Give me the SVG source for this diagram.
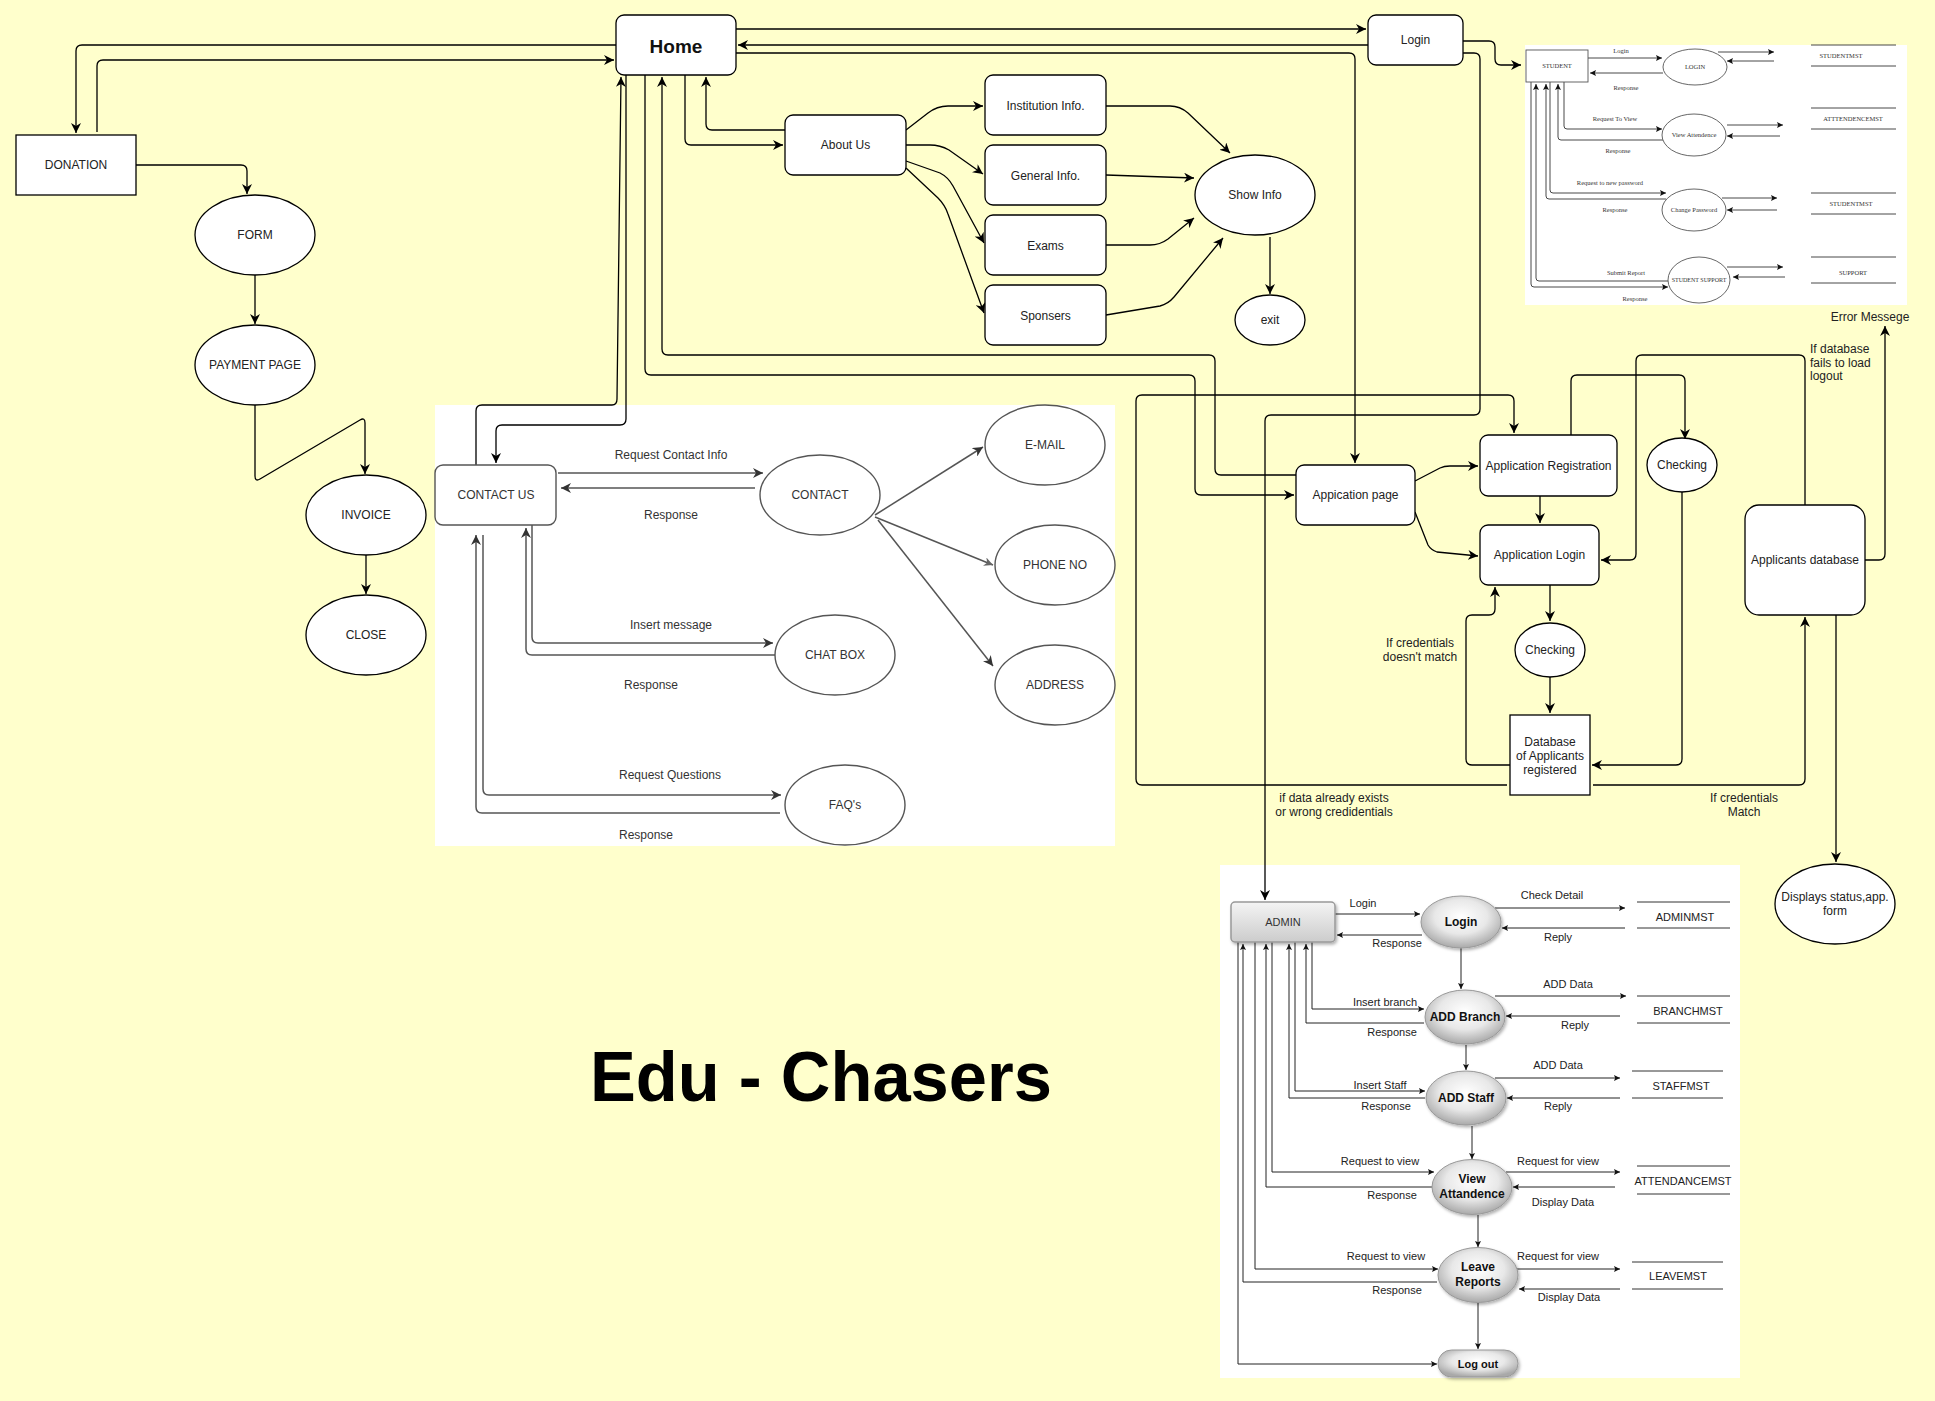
<svg xmlns="http://www.w3.org/2000/svg" width="1935" height="1401" viewBox="0 0 1935 1401">
<defs>
<style>
.t{font-family:"Liberation Sans",Arial,sans-serif;font-size:12px;fill:#222;text-anchor:middle}
.tl{font-family:"Liberation Sans",Arial,sans-serif;font-size:12px;fill:#222;text-anchor:start}
.tc{font-family:"Liberation Sans",Arial,sans-serif;font-size:12px;fill:#333;text-anchor:middle}
.ts{font-family:"Liberation Serif","Times New Roman",serif;font-size:6.5px;fill:#333;text-anchor:middle}
.ta{font-family:"Liberation Sans",Arial,sans-serif;font-size:11px;fill:#222;text-anchor:middle}
.tab{font-family:"Liberation Sans",Arial,sans-serif;font-size:12px;font-weight:bold;fill:#111;text-anchor:middle}
.n{fill:#fff;stroke:#000;stroke-width:1.3}
.ng{fill:#fff;stroke:#555;stroke-width:1.4}
.ns{fill:#fff;stroke:#555;stroke-width:0.9}
.e{fill:none;stroke:#000;stroke-width:1.3}
.eg{fill:none;stroke:#555;stroke-width:1.5}
.es{fill:none;stroke:#333;stroke-width:0.9}
.ea{fill:none;stroke:#222;stroke-width:1}
.st{fill:none;stroke:#333;stroke-width:1}
.ae{fill:url(#eg);stroke:#999;stroke-width:1;filter:url(#sh)}
</style>
<marker id="a" viewBox="0 0 10 10" refX="10" refY="5" markerWidth="10" markerHeight="10" markerUnits="userSpaceOnUse" orient="auto"><path d="M0,0 L10,5 L0,10 L3,5 z" fill="#000"/></marker>
<marker id="g" viewBox="0 0 10 10" refX="10" refY="5" markerWidth="10" markerHeight="10" markerUnits="userSpaceOnUse" orient="auto"><path d="M0,0 L10,5 L0,10 L3,5 z" fill="#333"/></marker>
<marker id="lg" viewBox="0 0 10 10" refX="10" refY="5" markerWidth="9" markerHeight="9" markerUnits="userSpaceOnUse" orient="auto"><path d="M0,0 L10,5 L0,10 L3,5 z" fill="#666"/></marker>
<marker id="s" viewBox="0 0 10 10" refX="10" refY="5" markerWidth="6" markerHeight="6" markerUnits="userSpaceOnUse" orient="auto"><path d="M0,0 L10,5 L0,10 L2,5 z" fill="#111"/></marker>
<radialGradient id="eg" cx="50%" cy="40%" r="60%"><stop offset="0" stop-color="#ffffff"/><stop offset="0.55" stop-color="#e8e8e8"/><stop offset="1" stop-color="#a9a9a9"/></radialGradient>
<linearGradient id="bg" x1="0" y1="0" x2="0" y2="1"><stop offset="0" stop-color="#f4f4f4"/><stop offset="1" stop-color="#cccccc"/></linearGradient>
<filter id="sh" x="-20%" y="-20%" width="150%" height="160%"><feDropShadow dx="1.5" dy="2" stdDeviation="1.5" flood-color="#000" flood-opacity="0.3"/></filter>
</defs>
<rect x="0" y="0" width="1935" height="1401" fill="#FFFFCC"/>
<g id="panels">
<rect x="1525" y="45" width="382" height="260" fill="#fff"/>
<rect x="435" y="405" width="680" height="441" fill="#fff"/>
<rect x="1220" y="865" width="520" height="513" fill="#fff"/>
</g>
<g id="connectors">
<g id="main-edges">
<path class="e" d="M736,29 L1366,29" marker-end="url(#a)"/>
<path class="e" d="M1368,45 L738,45" marker-end="url(#a)"/>
<path class="e" d="M736,53 L1349,53 Q1355,53 1355,59 L1355,463" marker-end="url(#a)"/>
<path class="e" d="M1463,41 L1489,41 Q1495,41 1495,47 L1495,59 Q1495,65 1501,65 L1521,65" marker-end="url(#a)"/>
<path class="e" d="M1463,53 L1474,53 Q1480,53 1480,59 L1480,409 Q1480,415 1474,415 L1271,415 Q1265,415 1265,421 L1265,900" marker-end="url(#a)"/>
<path class="e" d="M616,45 L82,45 Q76,45 76,51 L76,133" marker-end="url(#a)"/>
<path class="e" d="M97,132 L97,66 Q97,60 103,60 L614,60" marker-end="url(#a)"/>
<path class="e" d="M136,165 L241,165 Q247,165 247,171 L247,194" marker-end="url(#a)"/>
<path class="e" d="M255,275 L255,324" marker-end="url(#a)"/>
<path class="e" d="M255,405 L255,476 Q255,482 260,479 L360,420 Q365,417 365,423 L365,474" marker-end="url(#a)"/>
<path class="e" d="M366,555 L366,594" marker-end="url(#a)"/>
<path class="e" d="M685,75 L685,139 Q685,145 691,145 L783,145" marker-end="url(#a)"/>
<path class="e" d="M785,130 L712,130 Q706,130 706,124 L706,77" marker-end="url(#a)"/>
<path class="e" d="M906,130 L928,113 Q937,106 948,106 L983,106" marker-end="url(#a)"/>
<path class="e" d="M906,145 L930,145 Q940,145 949,150 L983,174" marker-end="url(#a)"/>
<path class="e" d="M906,161 L940,173 Q948,177 953,186 L984,243" marker-end="url(#a)"/>
<path class="e" d="M906,168 L938,198 Q945,205 948,214 L984,313" marker-end="url(#a)"/>
<path class="e" d="M1106,106 L1170,106 Q1180,106 1188,113 L1230,153" marker-end="url(#a)"/>
<path class="e" d="M1106,175 L1194,178" marker-end="url(#a)"/>
<path class="e" d="M1106,245 L1150,245 Q1160,245 1168,239 L1194,218" marker-end="url(#a)"/>
<path class="e" d="M1106,315 L1160,306 Q1168,304 1174,297 L1223,238" marker-end="url(#a)"/>
<path class="e" d="M1270,237 L1270,294" marker-end="url(#a)"/>
<path class="e" d="M476,465 L476,411 Q476,405 482,405 L612,405 Q617,405 617,399 L621,77" marker-end="url(#a)"/>
<path class="e" d="M626,75 L626,419 Q626,425 620,425 L502,425 Q496,425 496,431 L496,463" marker-end="url(#a)"/>
<path class="e" d="M645,75 L645,369 Q645,375 651,375 L1189,375 Q1195,375 1195,381 L1195,489 Q1195,495 1201,495 L1294,495" marker-end="url(#a)"/>
<path class="e" d="M1296,475 L1221,475 Q1215,475 1215,469 L1215,361 Q1215,355 1209,355 L668,355 Q662,355 662,349 L662,77" marker-end="url(#a)"/>
<path class="e" d="M1415,481 L1440,468 Q1444,466 1450,466 L1478,466" marker-end="url(#a)"/>
<path class="e" d="M1415,512 L1428,545 Q1431,550 1437,552 L1478,556" marker-end="url(#a)"/>
<path class="e" d="M1540,496 L1540,523" marker-end="url(#a)"/>
<path class="e" d="M1571,435 L1571,381 Q1571,375 1577,375 L1679,375 Q1685,375 1685,381 L1685,439" marker-end="url(#a)"/>
<path class="e" d="M1805,505 L1805,361 Q1805,355 1799,355 L1642,355 Q1636,355 1636,361 L1636,554 Q1636,560 1630,560 L1601,560" marker-end="url(#a)"/>
<path class="e" d="M1865,560 L1879,560 Q1885,560 1885,554 L1885,326" marker-end="url(#a)"/>
<path class="e" d="M1550,585 L1550,621" marker-end="url(#a)"/>
<path class="e" d="M1550,677 L1550,713" marker-end="url(#a)"/>
<path class="e" d="M1510,765 L1472,765 Q1466,765 1466,759 L1466,621 Q1466,615 1472,615 L1489,615 Q1495,615 1495,609 L1495,587" marker-end="url(#a)"/>
<path class="e" d="M1682,490 L1682,759 Q1682,765 1676,765 L1592,765" marker-end="url(#a)"/>
<path class="e" d="M1507,785 L1142,785 Q1136,785 1136,779 L1136,401 Q1136,395 1142,395 L1508,395 Q1514,395 1514,401 L1514,433" marker-end="url(#a)"/>
<path class="e" d="M1593,785 L1799,785 Q1805,785 1805,779 L1805,617" marker-end="url(#a)"/>
<path class="e" d="M1836,615 L1836,862" marker-end="url(#a)"/>
</g>
<g id="contact-edges">
<path class="eg" d="M558,473 L763,473" marker-end="url(#g)"/>
<path class="eg" d="M755,488 L561,488" marker-end="url(#g)"/>
<path class="eg" d="M532,525 L532,637 Q532,643 538,643 L773,643" marker-end="url(#g)"/>
<path class="eg" d="M775,655 L532,655 Q526,655 526,649 L526,528" marker-end="url(#g)"/>
<path class="eg" d="M483,535 L483,789 Q483,795 489,795 L781,795" marker-end="url(#g)"/>
<path class="eg" d="M780,813 L482,813 Q476,813 476,807 L476,535" marker-end="url(#g)"/>
<path class="eg" d="M875,515 L983,447" marker-end="url(#g)"/>
<path class="eg" d="M875,517 L993,565" stroke="#999" marker-end="url(#lg)"/>
<path class="eg" d="M878,520 L993,666" marker-end="url(#g)"/>
</g>
<g id="student-edges">
<path class="es" d="M1588,58 L1662,58" marker-end="url(#s)"/>
<path class="es" d="M1663,73 L1590,73" marker-end="url(#s)"/>
<path class="es" d="M1718,52 L1774,52" marker-end="url(#s)"/>
<path class="es" d="M1774,61 L1727,61" marker-end="url(#s)"/>
<path class="es" d="M1564,82 L1564,126 Q1564,129 1567,129 L1662,129" marker-end="url(#s)"/>
<path class="es" d="M1663,140 L1561,140 Q1558,140 1558,137 L1558,84" marker-end="url(#s)"/>
<path class="es" d="M1727,125 L1783,125" marker-end="url(#s)"/>
<path class="es" d="M1780,136 L1727,136" marker-end="url(#s)"/>
<path class="es" d="M1550,82 L1550,190 Q1550,193 1553,193 L1666,193" marker-end="url(#s)"/>
<path class="es" d="M1666,199 L1549,199 Q1546,199 1546,196 L1546,84" marker-end="url(#s)"/>
<path class="es" d="M1722,198 L1777,198" marker-end="url(#s)"/>
<path class="es" d="M1777,210 L1727,210" marker-end="url(#s)"/>
<path class="es" d="M1668,281 L1539,281 Q1536,281 1536,278 L1536,84" marker-end="url(#s)"/>
<path class="es" d="M1531,82 L1531,284 Q1531,287 1534,287 L1668,287" marker-end="url(#s)"/>
<path class="es" d="M1727,267 L1783,267" marker-end="url(#s)"/>
<path class="es" d="M1785,277 L1733,277" marker-end="url(#s)"/>
<path class="es" d="M1811,45 L1896,45 M1811,66 L1896,66 M1811,108 L1896,108 M1811,129 L1896,129 M1811,193 L1896,193 M1811,214 L1896,214 M1811,257 L1896,257 M1811,283 L1896,283"/>
</g>
<g id="admin-edges">
<path class="ea" d="M1335,914 L1420,914" marker-end="url(#s)"/>
<path class="ea" d="M1422,935 L1337,935" marker-end="url(#s)"/>
<path class="ea" d="M1495,908 L1625,908" marker-end="url(#s)"/>
<path class="ea" d="M1625,928 L1502,928" marker-end="url(#s)"/>
<path class="ea" d="M1461,948 L1461,989" marker-end="url(#s)"/>
<path class="ea" d="M1495,996 L1626,996" marker-end="url(#s)"/>
<path class="ea" d="M1620,1016 L1506,1016" marker-end="url(#s)"/>
<path class="ea" d="M1312,942 L1312,1009 L1424,1009" marker-end="url(#s)"/>
<path class="ea" d="M1424,1023 L1306,1023 L1306,944" marker-end="url(#s)"/>
<path class="ea" d="M1466,1045 L1466,1070" marker-end="url(#s)"/>
<path class="ea" d="M1495,1078 L1620,1078" marker-end="url(#s)"/>
<path class="ea" d="M1620,1098 L1507,1098" marker-end="url(#s)"/>
<path class="ea" d="M1295,942 L1295,1091 L1425,1091" marker-end="url(#s)"/>
<path class="ea" d="M1425,1098 L1289,1098 L1289,944" marker-end="url(#s)"/>
<path class="ea" d="M1472,1126 L1472,1159" marker-end="url(#s)"/>
<path class="ea" d="M1272,942 L1272,1172 L1434,1172" marker-end="url(#s)"/>
<path class="ea" d="M1432,1187 L1266,1187 L1266,944" marker-end="url(#s)"/>
<path class="ea" d="M1506,1172 L1620,1172" marker-end="url(#s)"/>
<path class="ea" d="M1615,1187 L1513,1187" marker-end="url(#s)"/>
<path class="ea" d="M1478,1215 L1478,1247" marker-end="url(#s)"/>
<path class="ea" d="M1255,942 L1255,1269 L1438,1269" marker-end="url(#s)"/>
<path class="ea" d="M1437,1282 L1243,1282 L1243,944" marker-end="url(#s)"/>
<path class="ea" d="M1512,1269 L1620,1269" marker-end="url(#s)"/>
<path class="ea" d="M1620,1289 L1519,1289" marker-end="url(#s)"/>
<path class="ea" d="M1478,1303 L1478,1349" marker-end="url(#s)"/>
<path class="ea" d="M1238,942 L1238,1364 L1437,1364" marker-end="url(#s)"/>
<path class="st" d="M1637,902 L1730,902 M1637,928 L1730,928 M1637,996 L1730,996 M1637,1023 L1730,1023 M1632,1071 L1723,1071 M1632,1098 L1723,1098 M1637,1166 L1730,1166 M1637,1194 L1730,1194 M1632,1262 L1723,1262 M1632,1289 L1723,1289"/>
</g>
</g>
<g id="edge-labels">
<text class="t" x="1870" y="321">Error Messege</text>
<text class="tl" x="1810" y="353">If database</text>
<text class="tl" x="1810" y="367">fails to load</text>
<text class="tl" x="1810" y="380">logout</text>
<text class="t" x="1420" y="647">If credentials</text>
<text class="t" x="1420" y="661">doesn't match</text>
<text class="t" x="1334" y="802">if data already exists</text>
<text class="t" x="1334" y="816">or wrong credidentials</text>
<text class="t" x="1744" y="802">If credentials</text>
<text class="t" x="1744" y="816">Match</text>
<text class="tc" x="671" y="459">Request Contact Info</text>
<text class="tc" x="671" y="519">Response</text>
<text class="tc" x="671" y="629">Insert message</text>
<text class="tc" x="651" y="689">Response</text>
<text class="tc" x="670" y="779">Request Questions</text>
<text class="tc" x="646" y="839">Response</text>
<text class="ts" x="1621" y="53">Login</text>
<text class="ts" x="1626" y="90">Response</text>
<text class="ts" x="1615" y="121">Request To View</text>
<text class="ts" x="1618" y="153">Response</text>
<text class="ts" x="1610" y="185">Request to new password</text>
<text class="ts" x="1615" y="212">Response</text>
<text class="ts" x="1626" y="275">Submit Report</text>
<text class="ts" x="1635" y="301">Response</text>
<text class="ts" x="1841" y="58">STUDENTMST</text>
<text class="ts" x="1853" y="121">ATTTENDENCEMST</text>
<text class="ts" x="1851" y="206">STUDENTMST</text>
<text class="ts" x="1853" y="275">SUPPORT</text>
<text class="ta" x="1363" y="907">Login</text>
<text class="ta" x="1397" y="947">Response</text>
<text class="ta" x="1552" y="899">Check Detail</text>
<text class="ta" x="1558" y="941">Reply</text>
<text class="ta" x="1685" y="921">ADMINMST</text>
<text class="ta" x="1568" y="988">ADD Data</text>
<text class="ta" x="1575" y="1029">Reply</text>
<text class="ta" x="1688" y="1015">BRANCHMST</text>
<text class="ta" x="1385" y="1006">Insert branch</text>
<text class="ta" x="1392" y="1036">Response</text>
<text class="ta" x="1558" y="1069">ADD Data</text>
<text class="ta" x="1558" y="1110">Reply</text>
<text class="ta" x="1681" y="1090">STAFFMST</text>
<text class="ta" x="1380" y="1089">Insert Staff</text>
<text class="ta" x="1386" y="1110">Response</text>
<text class="ta" x="1380" y="1165">Request to view</text>
<text class="ta" x="1392" y="1199">Response</text>
<text class="ta" x="1558" y="1165">Request for view</text>
<text class="ta" x="1563" y="1206">Display Data</text>
<text class="ta" x="1683" y="1185">ATTENDANCEMST</text>
<text class="ta" x="1386" y="1260">Request to view</text>
<text class="ta" x="1397" y="1294">Response</text>
<text class="ta" x="1558" y="1260">Request for view</text>
<text class="ta" x="1569" y="1301">Display Data</text>
<text class="ta" x="1678" y="1280">LEAVEMST</text>
</g>
<g id="node-home"><rect class="n" x="616" y="15" width="120" height="60" rx="8"/><text x="676" y="53" style="font-family:'Liberation Sans',Arial,sans-serif;font-size:19px;font-weight:bold;text-anchor:middle;fill:#111">Home</text></g>
<g id="node-login"><rect class="n" x="1368" y="15" width="95" height="50" rx="8"/><text class="t" x="1415.5" y="44">Login</text></g>
<g id="node-donation"><rect class="n" x="16" y="135" width="120" height="60" stroke="#555"/><text class="t" x="76" y="169">DONATION</text></g>
<g id="node-form"><ellipse class="n" cx="255" cy="235" rx="60" ry="40"/><text class="t" x="255" y="239">FORM</text></g>
<g id="node-payment"><ellipse class="n" cx="255" cy="365" rx="60" ry="40"/><text class="t" x="255" y="369">PAYMENT PAGE</text></g>
<g id="node-invoice"><ellipse class="n" cx="366" cy="515" rx="60" ry="40"/><text class="t" x="366" y="519">INVOICE</text></g>
<g id="node-close"><ellipse class="n" cx="366" cy="635" rx="60" ry="40"/><text class="t" x="366" y="639">CLOSE</text></g>
<g id="node-about"><rect class="n" x="785" y="115" width="121" height="60" rx="8"/><text class="t" x="845.5" y="149">About Us</text></g>
<g id="node-institution"><rect class="n" x="985" y="75" width="121" height="60" rx="8"/><text class="t" x="1045.5" y="110">Institution Info.</text></g>
<g id="node-general"><rect class="n" x="985" y="145" width="121" height="60" rx="8"/><text class="t" x="1045.5" y="180">General Info.</text></g>
<g id="node-exams"><rect class="n" x="985" y="215" width="121" height="60" rx="8"/><text class="t" x="1045.5" y="250">Exams</text></g>
<g id="node-sponsers"><rect class="n" x="985" y="285" width="121" height="60" rx="8"/><text class="t" x="1045.5" y="320">Sponsers</text></g>
<g id="node-showinfo"><ellipse class="n" cx="1255" cy="195" rx="60" ry="40"/><text class="t" x="1255" y="199">Show Info</text></g>
<g id="node-exit"><ellipse class="n" cx="1270" cy="320" rx="35" ry="25"/><text class="t" x="1270" y="324">exit</text></g>
<g id="node-contactus"><rect class="ng" x="435" y="465" width="121" height="60" rx="8"/><text class="tc" x="496" y="499">CONTACT US</text></g>
<g id="node-contact"><ellipse class="ng" cx="820" cy="495" rx="60" ry="40"/><text class="tc" x="820" y="499">CONTACT</text></g>
<g id="node-chatbox"><ellipse class="ng" cx="835" cy="655" rx="60" ry="40"/><text class="tc" x="835" y="659">CHAT BOX</text></g>
<g id="node-faq"><ellipse class="ng" cx="845" cy="805" rx="60" ry="40"/><text class="tc" x="845" y="809">FAQ's</text></g>
<g id="node-email"><ellipse class="ng" cx="1045" cy="445" rx="60" ry="40"/><text class="tc" x="1045" y="449">E-MAIL</text></g>
<g id="node-phone"><ellipse class="ng" cx="1055" cy="565" rx="60" ry="40"/><text class="tc" x="1055" y="569">PHONE NO</text></g>
<g id="node-address"><ellipse class="ng" cx="1055" cy="685" rx="60" ry="40"/><text class="tc" x="1055" y="689">ADDRESS</text></g>
<g id="node-apppage"><rect class="n" x="1296" y="465" width="119" height="60" rx="8"/><text class="t" x="1355.5" y="499">Appication page</text></g>
<g id="node-appreg"><rect class="n" x="1480" y="435" width="137" height="61" rx="8"/><text class="t" x="1548.5" y="470">Application Registration</text></g>
<g id="node-checking1"><ellipse class="n" cx="1682" cy="465" rx="35" ry="27"/><text class="t" x="1682" y="469">Checking</text></g>
<g id="node-applogin"><rect class="n" x="1480" y="525" width="119" height="60" rx="8"/><text class="t" x="1539.5" y="559">Application Login</text></g>
<g id="node-checking2"><ellipse class="n" cx="1550" cy="650" rx="35" ry="27"/><text class="t" x="1550" y="654">Checking</text></g>
<g id="node-database"><rect class="n" x="1510" y="715" width="80" height="80"/><text class="t" x="1550" y="746">Database</text><text class="t" x="1550" y="760">of Applicants</text><text class="t" x="1550" y="774">registered</text></g>
<g id="node-applicantsdb"><rect class="n" x="1745" y="505" width="120" height="110" rx="14"/><text class="t" x="1805" y="564">Applicants database</text></g>
<g id="node-displays"><ellipse class="n" cx="1835" cy="904" rx="60" ry="40"/><text class="t" x="1835" y="901">Displays status,app.</text><text class="t" x="1835" y="915">form</text></g>
<g id="node-student"><rect class="ns" x="1526" y="50" width="62" height="32"/><text class="ts" x="1557" y="68">STUDENT</text></g>
<g id="node-s-login"><ellipse class="ns" cx="1695" cy="67" rx="32" ry="18"/><text class="ts" x="1695" y="69">LOGIN</text></g>
<g id="node-s-view"><ellipse class="ns" cx="1694" cy="135" rx="32" ry="21"/><text class="ts" x="1694" y="137">View Attendence</text></g>
<g id="node-s-change"><ellipse class="ns" cx="1694" cy="210" rx="32" ry="21"/><text class="ts" x="1694" y="212">Change Password</text></g>
<g id="node-s-support"><ellipse class="ns" cx="1699" cy="280" rx="31" ry="23"/><text class="ts" x="1699" y="282" style="font-size:6px">STUDENT SUPPORT</text></g>
<g id="node-admin"><rect x="1231" y="902" width="104" height="40" rx="4" fill="url(#bg)" stroke="#999" stroke-width="1.5" filter="url(#sh)"/><text class="ta" x="1283" y="926" style="fill:#333">ADMIN</text></g>
<g id="node-a-login"><ellipse class="ae" cx="1461" cy="922" rx="40" ry="26"/><text class="tab" x="1461" y="926">Login</text></g>
<g id="node-a-branch"><ellipse class="ae" cx="1465" cy="1017" rx="40" ry="27"/><text class="tab" x="1465" y="1021">ADD Branch</text></g>
<g id="node-a-staff"><ellipse class="ae" cx="1466" cy="1098" rx="40" ry="27"/><text class="tab" x="1466" y="1102">ADD Staff</text></g>
<g id="node-a-view"><ellipse class="ae" cx="1472" cy="1187" rx="40" ry="27.5"/><text class="tab" x="1472" y="1183">View</text><text class="tab" x="1472" y="1198">Attandence</text></g>
<g id="node-a-leave"><ellipse class="ae" cx="1478" cy="1275" rx="40" ry="27.5"/><text class="tab" x="1478" y="1271">Leave</text><text class="tab" x="1478" y="1286">Reports</text></g>
<g id="node-a-logout"><rect class="ae" x="1438" y="1350" width="80" height="27" rx="13.5"/><text class="tab" x="1478" y="1368" style="font-size:11px">Log out</text></g>
<g id="title"><text x="821" y="1101" textLength="462" lengthAdjust="spacingAndGlyphs" style="font-family:'Liberation Sans',Arial,sans-serif;font-size:70px;font-weight:bold;text-anchor:middle;fill:#000">Edu - Chasers</text></g>
</svg>
